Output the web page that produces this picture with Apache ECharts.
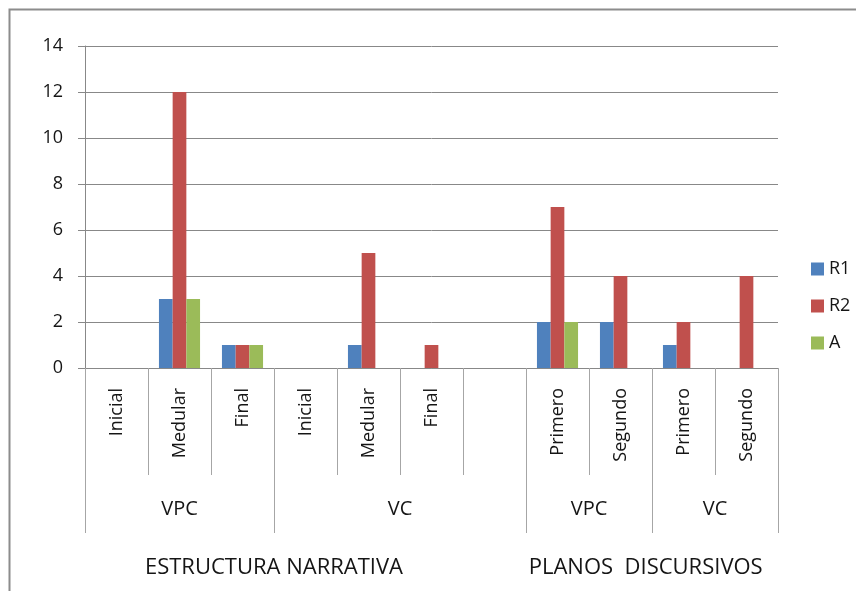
<!DOCTYPE html>
<html>
<head>
<meta charset="utf-8">
<script src="https://cdn.jsdelivr.net/npm/echarts@6/dist/echarts.min.js"></script>
<style>
  html, body { margin: 0; padding: 0; background: #ffffff; }
  #chart { width: 856px; height: 591px; }
</style>
</head>
<body>
<div id="chart"></div>
<script>
// Leaf categories (the empty slot separates the two blocks)
const leafCats = ['Inicial', 'Medular', 'Final', 'Inicial', 'Medular', 'Final', '', 'Primero', 'Segundo', 'Primero', 'Segundo'];

// Series values per leaf category
const seriesNames = ['R1', 'R2', 'A'];
const r1Values = [null, 3, 1, null, 1, null, null, 2, 2, 1, null];
const r2Values = [null, 12, 1, null, 5, 1, null, 7, 4, 2, 4];
const aValues  = [null, 3, 1, null, null, null, null, 2, null, null, null];

// Second level groups: name and span [start, end) in leaf-category units
const groupNames = ['VPC', 'VC', 'VPC', 'VC'];
const groupSpans = [[0, 3], [3, 7], [7, 9], [9, 11]];

// Top level groups
const topNames = ['ESTRUCTURA NARRATIVA', 'PLANOS  DISCURSIVOS'];
const topCenters = [3, 8.9];

// Y axis ticks
const yMin = 0, yMax = 14, yStep = 2;

const colors = ['#4F81BD', '#C0504D', '#9BBB59'];
const gridColor = '#888888';
const sepColor = '#a6a6a6';
const textColor = '#151515';
const font = 'Open Sans';

const groupBounds = [groupSpans[0][0]].concat(groupSpans.map(s => s[1]));
const groupCenters = groupSpans.map(s => (s[0] + s[1]) / 2);
const nCats = leafCats.length;

const chart = echarts.init(document.getElementById('chart'), null, { renderer: 'canvas' });

const option = {
  backgroundColor: '#ffffff',
  animation: false,
  color: colors,
  textStyle: { fontFamily: font },
  graphic: [{
    type: 'rect',
    shape: { x: 9.5, y: 9.5, width: 900, height: 700 },
    style: { fill: null, stroke: '#8c8c8c', lineWidth: 2 },
    silent: true
  }],
  grid: { left: 85, right: 78, top: 46, bottom: 223, containLabel: false },
  legend: {
    orient: 'vertical',
    left: 806,
    top: 255,
    itemWidth: 13,
    itemHeight: 13,
    itemGap: 19,
    icon: 'rect',
    textStyle: { fontFamily: font, fontSize: 18, color: textColor },
    data: seriesNames
  },
  xAxis: [
    {
      type: 'category',
      data: leafCats,
      boundaryGap: true,
      axisLine: { show: true, lineStyle: { color: gridColor, width: 1 } },
      axisTick: { show: true, interval: 0, length: 107, lineStyle: { color: sepColor } },
      axisLabel: {
        interval: 0, rotate: 90, margin: 20,
        fontFamily: font, fontSize: 18, color: textColor
      },
      splitLine: { show: false }
    },
    {
      type: 'value',
      min: 0, max: nCats,
      position: 'bottom',
      offset: 0,
      axisLine: { show: false },
      axisTick: { show: true, length: 165, customValues: groupBounds, lineStyle: { color: sepColor } },
      axisLabel: {
        show: true, margin: 131, customValues: groupCenters,
        fontFamily: font, fontSize: 20, color: textColor,
        formatter: function (v) {
          const i = groupCenters.indexOf(v);
          return i >= 0 ? groupNames[i] : '';
        }
      },
      splitLine: { show: false }
    },
    {
      type: 'value',
      min: 0, max: nCats,
      position: 'bottom',
      offset: 0,
      axisLine: { show: false },
      axisTick: { show: false },
      axisLabel: {
        show: true, margin: 189, customValues: topCenters,
        fontFamily: font, fontSize: 22, color: textColor,
        formatter: function (v) {
          const i = topCenters.indexOf(v);
          return i >= 0 ? topNames[i] : '';
        }
      },
      splitLine: { show: false }
    }
  ],
  yAxis: {
    type: 'value',
    min: yMin, max: yMax, interval: yStep,
    axisLine: { show: true, lineStyle: { color: gridColor } },
    axisTick: { show: true, length: 7, lineStyle: { color: gridColor } },
    axisLabel: { margin: 22, fontFamily: font, fontSize: 18, color: textColor },
    splitLine: { show: true, lineStyle: { color: gridColor, width: 1 } }
  },
  series: [
    { name: seriesNames[0], type: 'bar', data: r1Values, barWidth: 13.7, barGap: '0%' },
    { name: seriesNames[1], type: 'bar', data: r2Values, barWidth: 13.7, barGap: '0%' },
    { name: seriesNames[2], type: 'bar', data: aValues,  barWidth: 13.7, barGap: '0%' }
  ]
};

chart.setOption(option);
</script>
</body>
</html>
